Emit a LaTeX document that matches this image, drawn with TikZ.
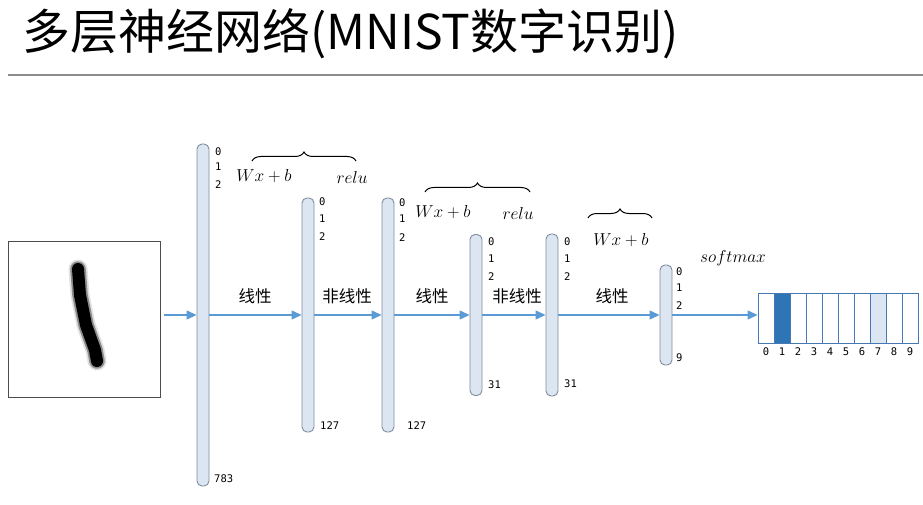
\documentclass[tikz,border=0pt]{standalone}
\usepackage{fontspec}
\newfontfamily\cjk{Noto Sans CJK SC}
\newfontfamily\digitfont{DejaVu Sans Mono}
\usetikzlibrary{arrows.meta,decorations.pathreplacing}
\definecolor{barfill}{RGB}{220,230,242}
\definecolor{barline}{RGB}{128,140,155}
\definecolor{arrowblue}{RGB}{91,155,213}
\definecolor{darkcell}{RGB}{46,117,182}
\definecolor{cellline}{RGB}{70,120,180}
\begin{document}
\begin{tikzpicture}[x=1pt,y=-1pt,
  bar/.style={draw=barline,fill=barfill,rounded corners=5pt,minimum width=12pt,inner sep=0pt,line width=0.9pt},
  flow/.style={draw=arrowblue,line width=1.2pt,-{Triangle[length=10pt,width=9pt]}},
  idx/.style={font=\digitfont\fontsize{10.5}{12}\selectfont,anchor=west,inner sep=0pt},
  cellidx/.style={font=\digitfont\fontsize{10.5}{12}\selectfont,inner sep=0pt},
  cnlab/.style={font=\cjk\fontsize{16.5}{18}\selectfont,inner sep=0pt},
  mathlab/.style={font=\fontsize{16.5}{18}\selectfont,inner sep=0pt},
  cell/.style={draw=cellline,line width=0.8pt,minimum width=16pt,minimum height=50pt,inner sep=0pt},
  curly/.style={decorate,decoration={brace,amplitude=9pt},line width=1pt}
]
\useasboundingbox (0,0) rectangle (923,505);
% title
\node[font=\cjk\fontsize{48}{52}\selectfont,anchor=west,inner sep=0pt] (title) at (22,34) {多层神经网络(MNIST数字识别)};
\draw[black!45,line width=1.5pt] (8,75) -- (923,75);
% input image
\node[draw=black!70,line width=1pt,minimum width=152pt,minimum height=156pt,inner sep=0pt] (img) at (84,319) {};
\draw[black!12,line width=19pt,line cap=round,line join=round] (78,269) -- (80,295) -- (86,325) -- (95,350) -- (97,361);
\draw[black!45,line width=15.5pt,line cap=round,line join=round] (78,269) -- (80,295) -- (86,325) -- (95,350) -- (97,361);
\draw[black,line width=12pt,line cap=round,line join=round] (78,269) -- (80,295) -- (86,325) -- (95,350) -- (97,361);
% bars
\node[bar,minimum height=342pt] (b1) at (203,315) {};
\node[bar,minimum height=234pt] (b2) at (308,315) {};
\node[bar,minimum height=234pt] (b3) at (388,315) {};
\node[bar,minimum height=161pt] (b4) at (476,315) {};
\node[bar,minimum height=162pt] (b5) at (552,315) {};
\node[bar,minimum height=100pt] (b6) at (666,315) {};
% indices
\node[idx] at (215,152) {0}; \node[idx] at (215,167) {1}; \node[idx] at (215,185) {2};
\node[idx] at (214,479) {783};
\node[idx] at (319,202) {0}; \node[idx] at (319,219) {1}; \node[idx] at (319,237) {2};
\node[idx] at (320,426) {127};
\node[idx] at (399,203) {0}; \node[idx] at (399,219) {1}; \node[idx] at (399,238) {2};
\node[idx] at (407,426) {127};
\node[idx] at (488,242) {0}; \node[idx] at (488,259) {1}; \node[idx] at (488,277) {2};
\node[idx] at (488,385) {31};
\node[idx] at (564,242) {0}; \node[idx] at (564,259) {1}; \node[idx] at (564,277) {2};
\node[idx] at (564,384) {31};
\node[idx] at (676,272) {0}; \node[idx] at (676,288) {1}; \node[idx] at (676,306) {2};
\node[idx] at (676,358) {9};
% output cells
\foreach \i in {0,...,9} {
  \node[cell] (c\i) at (766+16*\i,318) {};
  \node[cellidx] at (766+16*\i,352) {\i};
}
\node[cell,fill=darkcell] at (c1) {};
\node[cell,fill=barfill] at (c7) {};
% flow arrows
\draw[flow,shorten <=3pt] (img.east |- b1.west) -- (b1.west);
\draw[flow] (b1.east) -- (b2.west);
\draw[flow] (b2.east) -- (b3.west);
\draw[flow] (b3.east) -- (b4.west);
\draw[flow] (b4.east) -- (b5.west);
\draw[flow] (b5.east) -- (b6.west);
\draw[flow] (b6.east) -- (b6.east -| c0.west);
% labels
\node[cnlab] at (255,296) {线性};
\node[cnlab] at (347,296) {非线性};
\node[cnlab] at (432,296) {线性};
\node[cnlab] at (517,296) {非线性};
\node[cnlab] at (612,296) {线性};
% braces
\coordinate (br1a) at (252,161); \coordinate (br1b) at (356,161);
\coordinate (br2a) at (425,192); \coordinate (br2b) at (530,192);
\coordinate (br3a) at (588,218); \coordinate (br3b) at (652,218);
\draw[curly] (br1a) -- (br1b);
\draw[curly] (br2a) -- (br2b);
\draw[curly] (br3a) -- (br3b);
\node[mathlab] at (264,176) {$Wx+b$};
\node[mathlab] at (352,177) {$relu$};
\node[mathlab] at (443,212) {$Wx+b$};
\node[mathlab] at (518,213) {$relu$};
\node[mathlab] at (621,240) {$Wx+b$};
\node[mathlab] at (733,258) {$softmax$};
\end{tikzpicture}
\end{document}
